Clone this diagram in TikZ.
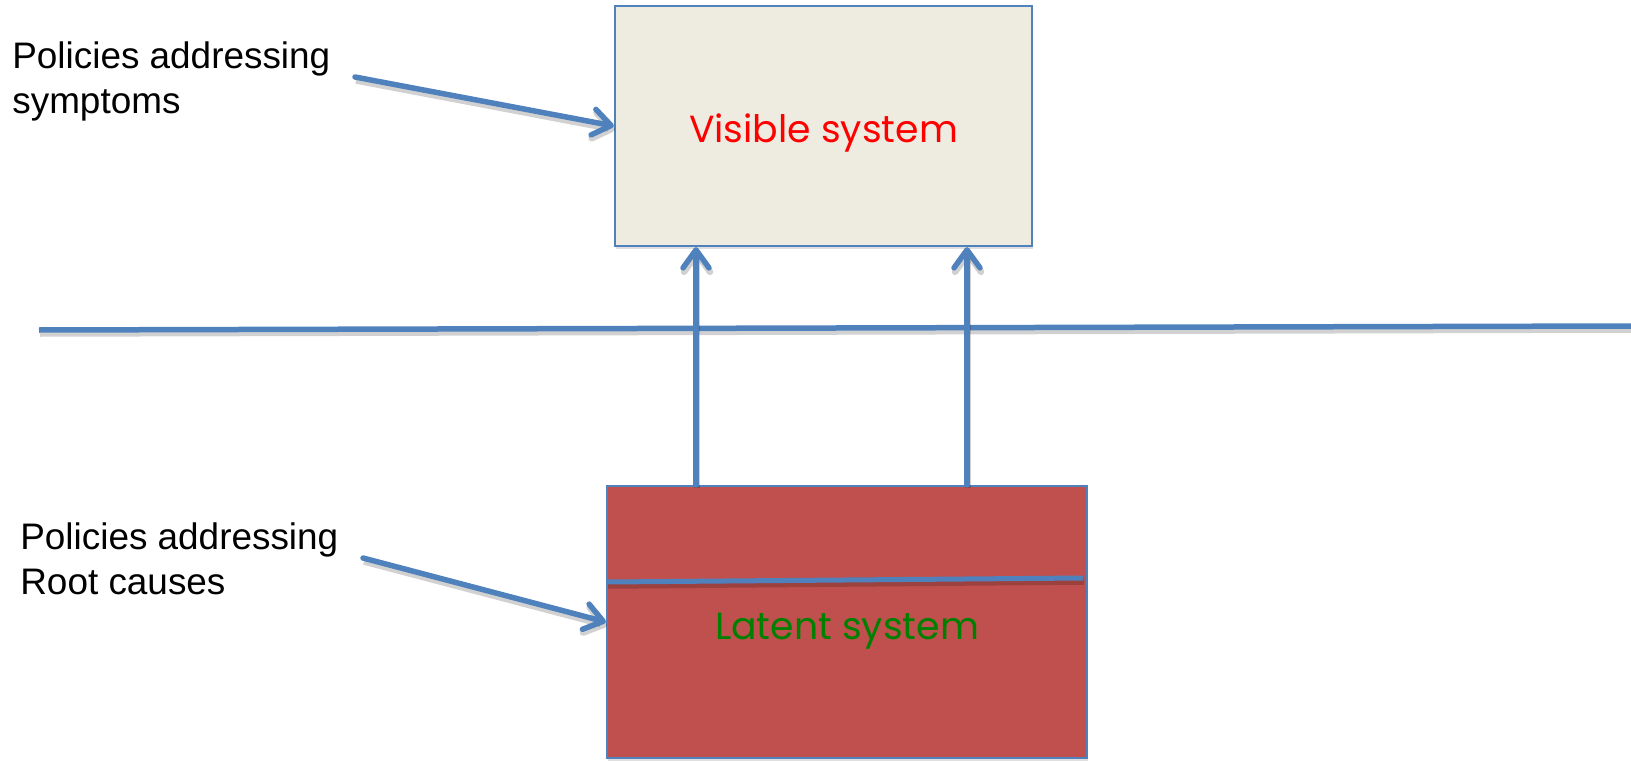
\documentclass[tikz,border=0pt]{standalone}
\usepackage{fontspec}
\setmainfont{Liberation Sans}
\newfontfamily\boxfont{Poppins}
\usepackage{tikz}
\usetikzlibrary{arrows.meta, shadows}

\definecolor{linkblue}{HTML}{4F81BD}
\definecolor{visfill}{HTML}{EEECE1}
\definecolor{latfill}{HTML}{C0504D}
\definecolor{latgreen}{HTML}{008000}

\begin{document}
\begin{tikzpicture}[
    ombra/.style={preaction={draw=black, draw opacity=0.18, line width=0.13cm, transform canvas={xshift=0.02cm, yshift=-0.07cm}}},
    linea/.style={draw=linkblue, line width=0.11cm, ombra},
    freccia/.style={linea, line cap=round, -{Straight Barb[length=0.36cm, width=0.52cm, line cap=round, line join=round]}},
    scatola/.style={draw=linkblue, line width=0.045cm, font=\boxfont\fontsize{21.5}{26}\selectfont,
        text height=0.68cm, text depth=0pt,
        drop shadow={opacity=0.25, shadow xshift=0.02cm, shadow yshift=-0.06cm}},
    etichetta/.style={anchor=north west, align=left, inner sep=0pt, font=\fontsize{21}{25.6}\selectfont}
]
    \useasboundingbox (0,0) rectangle (32.62,15.2);

    % Scatole
    \node[scatola, fill=visfill, text=red, minimum width=8.34cm, minimum height=4.8cm] (visibile) at (16.47,12.68) {Visible system};
    \node[scatola, fill=latfill, text=latgreen, minimum width=9.6cm, minimum height=5.44cm] (latente) at (16.94,2.76) {Latent system};

    % Etichette
    \node[etichetta] (sintomi) at (0.24,14.38) {Policies addressing\\symptoms};
    \node[etichetta] (cause) at (0.4,4.76) {Policies addressing\\Root causes};

    % Linea orizzontale
    \coordinate (orizz-sx) at (0.78,8.6);
    \coordinate (orizz-dx) at (32.62,8.68);
    \draw[linea] (orizz-sx) -- (orizz-dx);

    % Linea dentro la scatola rossa
    \coordinate (taglio-sx) at (12.14,3.56);
    \coordinate (taglio-dx) at (21.66,3.64);
    \draw[linea, line width=0.1cm] (taglio-sx) -- (taglio-dx);

    % Frecce verso l'alto
    \coordinate (piede1) at (13.92,0);
    \coordinate (piede2) at (19.34,0);
    \draw[freccia] (piede1 |- latente.north) -- (piede1 |- visibile.south);
    \draw[freccia] (piede2 |- latente.north) -- (piede2 |- visibile.south);

    % Frecce dalle etichette
    \coordinate (sintomi-coda) at (7.1,13.66);
    \coordinate (cause-coda) at (7.26,4.04);
    \draw[freccia] (sintomi-coda) -- (visibile.west);
    \draw[freccia] (cause-coda) -- (latente.west);
\end{tikzpicture}
\end{document}
